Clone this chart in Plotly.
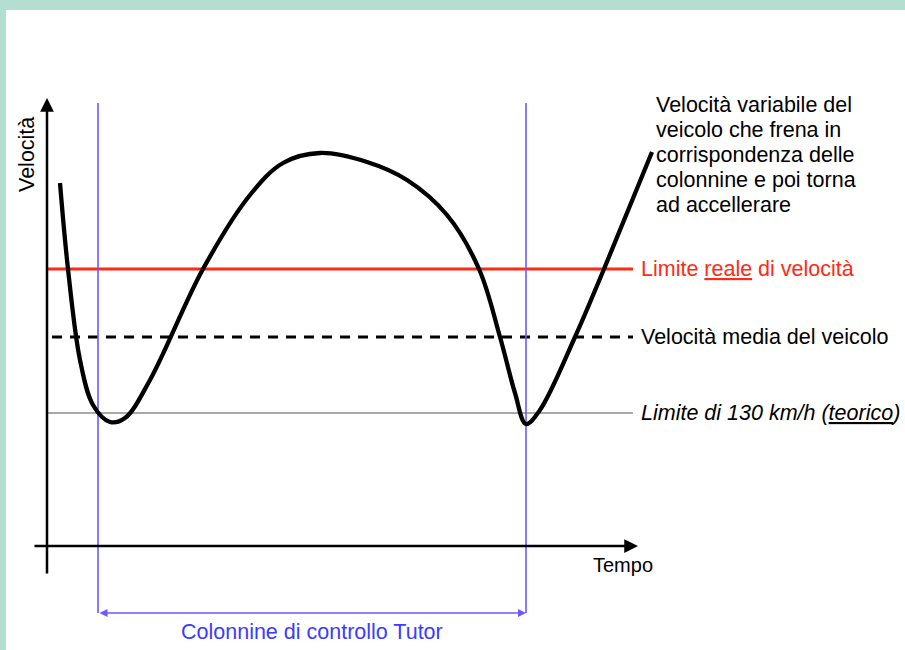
import plotly.graph_objects as go

# Curve: time (x) and velocity (y)
time = [60, 68, 80, 93, 110, 125, 150, 203, 250, 283, 320, 367, 407, 447, 479, 500, 515, 526, 540, 575, 604, 652]
speed = [467, 381, 290, 245, 228, 232, 270, 381, 455, 487, 497, 488, 470, 435, 381, 313, 257, 226, 240, 313, 381, 498]

# Reference levels
limite_reale = 381
velocita_media = 313
limite_130 = 237

# Tutor control posts (time positions)
colonnine = [98, 526]

line_labels = ["Limite <u>reale</u> di velocità", "Velocità media del veicolo", "<i>Limite di 130 km/h (<u>teorico</u>)</i>"]
note_lines = ["Velocità variabile del", "veicolo che frena in", "corrispondenza delle", "colonnine e poi torna", "ad accellerare"]

W, H = 905, 650
FONT = "Liberation Sans, Arial, sans-serif"
BLUE_LINE = "#6c58ff"
BLUE_TEXT = "#3b3bff"
RED = "#ff2a14"
FS = 21.5

fig = go.Figure()

# white panel over the mint border
fig.add_shape(type="rect", x0=6, x1=W + 5, y0=-5, y1=H - 10, fillcolor="white", line_width=0, layer="below")

x_line_start, x_line_end = 47, 633
fig.add_trace(go.Scatter(x=[x_line_start, x_line_end], y=[limite_130, limite_130], mode="lines",
                         line=dict(color="#555555", width=1.1), hoverinfo="skip"))
fig.add_trace(go.Scatter(x=[52, x_line_end], y=[velocita_media, velocita_media], mode="lines",
                         line=dict(color="black", width=3, dash="10px,8px"), hoverinfo="skip"))
fig.add_trace(go.Scatter(x=[x_line_start, x_line_end], y=[limite_reale, limite_reale], mode="lines",
                         line=dict(color=RED, width=3), hoverinfo="skip"))

# Blue vertical lines
for c in colonnine:
    fig.add_trace(go.Scatter(x=[c, c], y=[37, 547], mode="lines",
                             line=dict(color=BLUE_LINE, width=1.6), hoverinfo="skip"))

# Curve
fig.add_trace(go.Scatter(x=time, y=speed, mode="lines",
                         line=dict(color="black", width=4.3, shape="spline", smoothing=1.0), hoverinfo="skip"))

annotations = []
# Y axis arrow
annotations.append(dict(x=47, y=552, ax=47, ay=75, xref="x", yref="y", axref="x", ayref="y", text="",
                        showarrow=True, arrowhead=2, arrowsize=1.1, arrowwidth=2.5, arrowcolor="black", standoff=0))
# X axis arrow
annotations.append(dict(x=638, y=104, ax=33, ay=104, xref="x", yref="y", axref="x", ayref="y", text="",
                        showarrow=True, arrowhead=2, arrowsize=1.1, arrowwidth=2.5, arrowcolor="black", standoff=0))
# Blue double arrow
annotations.append(dict(x=526, y=37, ax=98, ay=37, xref="x", yref="y", axref="x", ayref="y", text="",
                        showarrow=True, arrowhead=2, startarrowhead=2, arrowside="end+start", arrowsize=1,
                        startarrowsize=1, arrowwidth=1.6, arrowcolor=BLUE_LINE, standoff=0, startstandoff=0))

# Axis titles
annotations.append(dict(x=27, y=495, xref="x", yref="y", text="Velocità", showarrow=False, textangle=-90,
                        font=dict(family=FONT, size=FS, color="black"), xanchor="center", yanchor="middle"))
annotations.append(dict(x=591, y=85, xref="x", yref="y", text="Tempo", showarrow=False,
                        font=dict(family=FONT, size=20, color="black"), xanchor="left", yanchor="middle"))
annotations.append(dict(x=312, y=18, xref="x", yref="y", text="Colonnine di controllo Tutor", showarrow=False,
                        font=dict(family=FONT, size=FS, color=BLUE_TEXT), xanchor="center", yanchor="middle"))

# Line labels
for lvl, lab, col in zip([limite_reale, velocita_media, limite_130], line_labels, [RED, "black", "black"]):
    annotations.append(dict(x=639, y=lvl, xref="x", yref="y", text=lab, showarrow=False,
                            font=dict(family=FONT, size=FS, color=col), xanchor="left", yanchor="middle"))

# Note block
for i, t in enumerate(note_lines):
    annotations.append(dict(x=654, y=545 - i * 25, xref="x", yref="y", text=t, showarrow=False,
                            font=dict(family=FONT, size=FS, color="black"), xanchor="left", yanchor="middle"))

fig.update_layout(
    width=W, height=H,
    margin=dict(l=0, r=0, t=0, b=0),
    paper_bgcolor="#b4dfd0",
    plot_bgcolor="rgba(0,0,0,0)",
    showlegend=False,
    xaxis=dict(range=[0, W], visible=False, fixedrange=True),
    yaxis=dict(range=[0, H], visible=False, fixedrange=True),
    annotations=annotations,
)

fig.write_html("out.html", config={"displayModeBar": False},
               post_script="document.body.style.margin='0';document.body.style.overflow='hidden';")
